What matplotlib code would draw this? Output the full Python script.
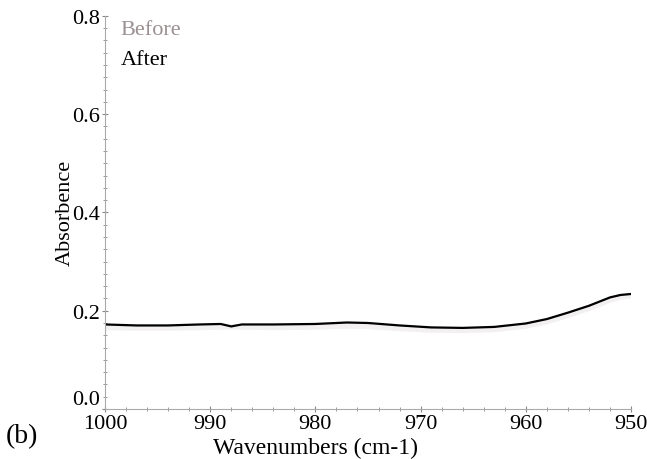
import numpy as np
import matplotlib.pyplot as plt
from matplotlib.ticker import MultipleLocator

# FTIR absorbance, 1000-950 cm-1
wn = [1000, 997, 994, 991, 989, 988, 987, 984, 980, 977, 975, 972,
      969, 966, 963, 960, 958, 956, 954, 952, 951, 950]
after = [0.172, 0.170, 0.170, 0.172, 0.173, 0.168, 0.172, 0.172, 0.173, 0.176, 0.175, 0.170,
         0.166, 0.165, 0.167, 0.174, 0.183, 0.196, 0.210, 0.227, 0.232, 0.234]
before = [0.166, 0.165, 0.165, 0.166, 0.167, 0.167, 0.167, 0.166, 0.167, 0.169, 0.168, 0.164,
          0.161, 0.160, 0.162, 0.169, 0.178, 0.191, 0.205, 0.222, 0.228, 0.230]

plt.rcParams['font.family'] = ['Liberation Serif', 'DejaVu Serif']

fig = plt.figure(figsize=(6.47, 4.6), dpi=100)
ax = fig.add_axes([105 / 647, 50 / 460, 526 / 647, 393.2 / 460])

ax.plot(wn, before, color='#f2f0f0', lw=4, zorder=1)
ax.plot(wn, after, color='black', lw=1.6, zorder=2)

ax.set_xlim(1000, 950)
ax.set_ylim(0, 0.8)
ax.xaxis.set_major_locator(MultipleLocator(10))
ax.xaxis.set_minor_locator(MultipleLocator(2))
ax.yaxis.set_major_locator(MultipleLocator(0.2))
ax.yaxis.set_minor_locator(MultipleLocator(0.025))
ax.yaxis.set_major_formatter(plt.FormatStrFormatter('%.1f'))

for s in ['top', 'right']:
    ax.spines[s].set_visible(False)
for s in ['left', 'bottom']:
    ax.spines[s].set_color('#aaaaaa')
    ax.spines[s].set_linewidth(0.8)

ax.tick_params(which='both', direction='inout', color='#888888', labelsize=16, pad=1)
ax.tick_params(which='major', length=5, width=0.8)
ax.tick_params(which='minor', length=3, width=0.6)

# lift the 0.0 label so it sits clear of the 1000 label
fig.canvas.draw()
for lab in ax.get_yticklabels():
    if lab.get_text() == '0.0':
        lab.set_verticalalignment('bottom')

ax.set_xlabel('Wavenumbers (cm-1)', fontsize=17)
ax.xaxis.set_label_coords(0.40, -0.072)
ax.set_ylabel('Absorbence', fontsize=16, labelpad=-2)

ax.text(0.03, 0.965, 'Before', transform=ax.transAxes, color='#9b9092', fontsize=16, va='center')
ax.text(0.03, 0.89, 'After', transform=ax.transAxes, color='black', fontsize=16, va='center')

fig.text(6 / 647, 23 / 460, '(b)', fontsize=20, va='center')

fig.savefig('out.png', dpi=100)
